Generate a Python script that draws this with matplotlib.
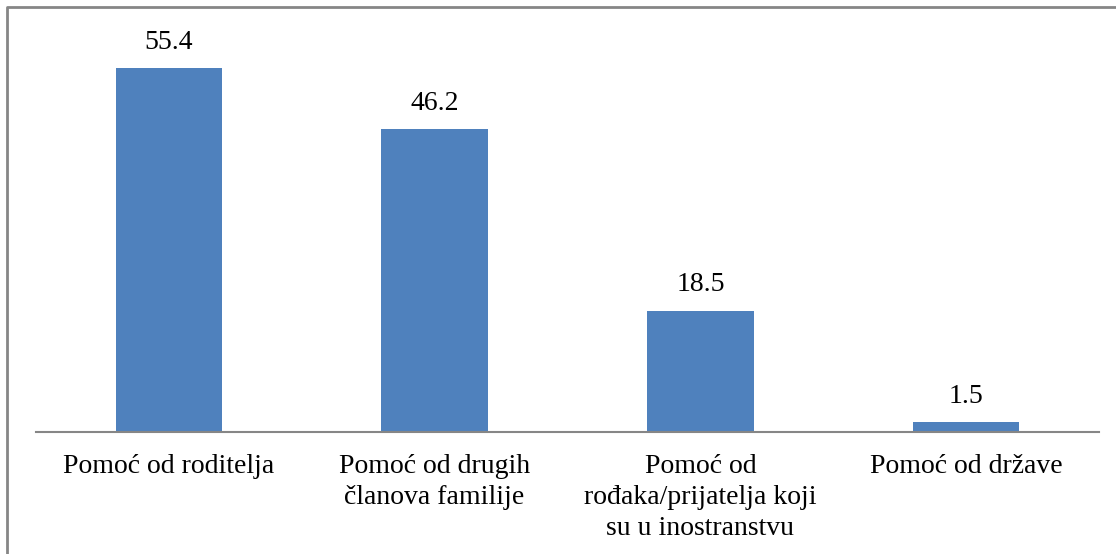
import matplotlib.pyplot as plt
from matplotlib.lines import Line2D

categories = ['Pomoć od roditelja', 'Pomoć od drugih\nčlanova familije',
              'Pomoć od\nrođaka/prijatelja koji\nsu u inostranstvu', 'Pomoć od države']
values = [55.4, 46.2, 18.5, 1.5]

plt.rcParams['font.family'] = ['Liberation Serif', 'DejaVu Serif']
fig = plt.figure(figsize=(11.16, 5.54), dpi=100)
ax = fig.add_axes([36/1116, 122/554, (1099-36)/1116, 394/554])
x = range(len(values))
bars = ax.bar(x, values, width=0.4, color='#4F81BD')
for b, v in zip(bars, values):
    ax.text(b.get_x() + b.get_width()/2, v + 2.9, f'{v}', ha='center', va='baseline', fontsize=20)
ax.set_xlim(-0.5, 3.5)
ax.set_ylim(0, 60)
ax.set_xticks(list(x))
ax.set_xticklabels(categories, fontsize=20, linespacing=1.32)
ax.tick_params(axis='x', length=0, pad=16)
ax.set_yticks([])
for s in ['top', 'right', 'left']:
    ax.spines[s].set_visible(False)
ax.spines['bottom'].set_color('#868686')
ax.spines['bottom'].set_linewidth(1.5)
# outer frame: only top and left edges are visible
fig.lines.append(Line2D([6.5/1116, 6.5/1116, 1], [0, 1 - 7/554, 1 - 7/554],
                        transform=fig.transFigure, color='#868686', linewidth=2))
fig.savefig('out.png', dpi=100)
